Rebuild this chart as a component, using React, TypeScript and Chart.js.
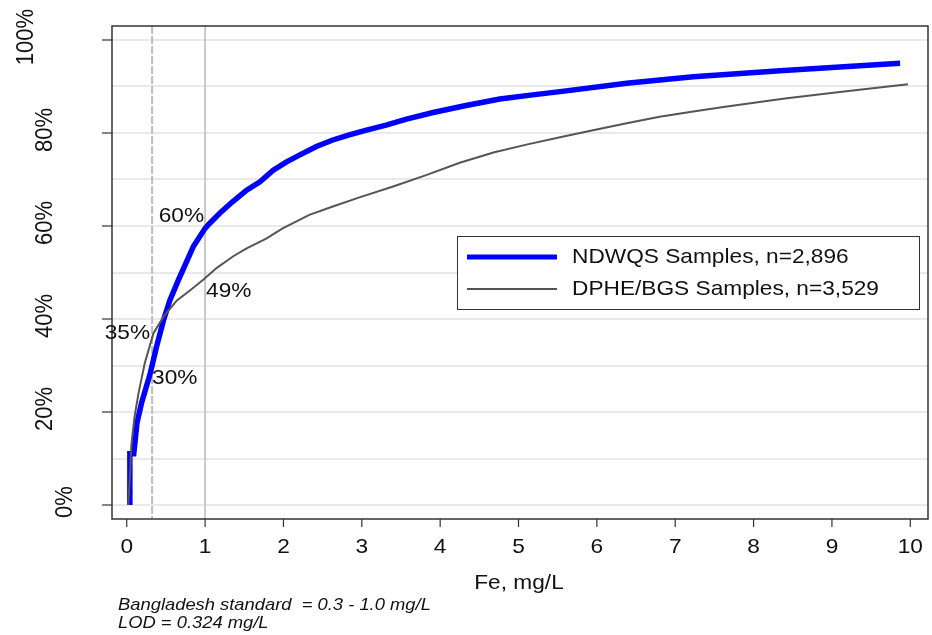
import React, { useEffect, useRef } from "react";
import { Chart, registerables } from "chart.js";

Chart.register(...registerables);

// NDWQS samples (blue) - Fe mg/L vs cumulative %
const ndwqsX = [0.04, 0.04, 0.09, 0.13, 0.19, 0.30, 0.38, 0.47, 0.55, 0.66, 0.75, 0.85, 1.0, 1.06, 1.19, 1.35, 1.53, 1.7, 1.87, 2.04, 2.21, 2.42, 2.63, 2.84, 3.06, 3.31, 3.57, 3.91, 4.33, 4.76, 5.18, 5.53, 6.38, 7.23, 8.34, 9.2, 9.87];
const ndwqsY = [0, 11, 11, 17.6, 22, 28.3, 34, 39.8, 44, 48.4, 51.8, 55.6, 59.5, 60.6, 62.8, 65.2, 67.7, 69.5, 72, 73.8, 75.3, 77.1, 78.5, 79.6, 80.6, 81.7, 83.0, 84.4, 85.9, 87.3, 88.2, 88.9, 90.7, 92.1, 93.4, 94.3, 95.0];

// DPHE/BGS samples (grey)
const dpheX = [0.02, 0.04, 0.06, 0.1, 0.15, 0.23, 0.34, 0.47, 0.64, 0.81, 0.98, 1.15, 1.36, 1.53, 1.78, 1.99, 2.33, 2.63, 2.98, 3.4, 3.83, 4.25, 4.68, 5.1, 5.53, 5.95, 6.38, 6.8, 7.23, 7.66, 8.4, 9.1, 9.97];
const dpheY = [0, 6, 13, 19, 24, 30.5, 36.9, 40.5, 44, 46.2, 48.5, 51, 53.5, 55.2, 57.3, 59.5, 62.4, 64.2, 66.2, 68.5, 71, 73.6, 75.8, 77.5, 79.1, 80.6, 82.1, 83.5, 84.6, 85.7, 87.4, 88.8, 90.5];

const xTicks = [0, 1, 2, 3, 4, 5, 6, 7, 8, 9, 10];
const yTicks = [0, 20, 40, 60, 80, 100];
const yTickLabels = ["0%", "20%", "40%", "60%", "80%", "100%"];
const yGrid = [0, 10, 20, 30, 40, 50, 60, 70, 80, 90, 100];

const lodValue = 0.324;
const standardMax = 1.0;

const seriesNames = ["NDWQS Samples, n=2,896", "DPHE/BGS Samples, n=3,529"];
const xTitle = "Fe, mg/L";
const footnotes = ["Bangladesh standard  = 0.3 - 1.0 mg/L", "LOD = 0.324 mg/L"];

// value annotations: text, x value, y value
const annoText = ["60%", "49%", "35%", "30%"];
const annoX = [1.0, 1.0, 0.324, 0.324];
const annoY = [60, 49, 35, 30];

const FONT = '"Liberation Sans", Arial, Helvetica, sans-serif';
const SX = 1.08;

function txt(ctx: CanvasRenderingContext2D, s: string, x: number, y: number, align: CanvasTextAlign, size: number, italic = false, rot = false) {
  ctx.save();
  ctx.translate(x, y);
  if (rot) {
    ctx.rotate(-Math.PI / 2);
    ctx.scale(1, SX);
  } else {
    ctx.scale(SX, 1);
  }
  ctx.font = `${italic ? "italic " : ""}${size}px ${FONT}`;
  ctx.textAlign = align;
  ctx.textBaseline = "middle";
  ctx.fillStyle = "#111";
  ctx.fillText(s, 0, 0);
  ctx.restore();
}

const drawPlugin = {
  id: "stataLook",
  beforeDatasetsDraw(chart: any) {
    const { ctx, chartArea: a, scales } = chart;
    const xs = scales.x, ys = scales.y;
    ctx.save();
    ctx.strokeStyle = "#e9e9e9";
    ctx.lineWidth = 2;
    yGrid.forEach((v) => {
      const y = Math.round(ys.getPixelForValue(v));
      ctx.beginPath();
      ctx.moveTo(a.left, y);
      ctx.lineTo(a.right, y);
      ctx.stroke();
    });
    // reference lines
    ctx.strokeStyle = "#bdbdbd";
    ctx.lineWidth = 2;
    const xl = xs.getPixelForValue(lodValue);
    ctx.setLineDash([8, 2]);
    ctx.beginPath();
    ctx.moveTo(xl, a.top);
    ctx.lineTo(xl, a.bottom);
    ctx.stroke();
    ctx.setLineDash([]);
    ctx.strokeStyle = "#c8c8c8";
    const xs1 = xs.getPixelForValue(standardMax);
    ctx.beginPath();
    ctx.moveTo(xs1, a.top);
    ctx.lineTo(xs1, a.bottom);
    ctx.stroke();
    ctx.restore();
  },
  afterDatasetsDraw(chart: any) {
    const { ctx, chartArea: a, scales } = chart;
    const xs = scales.x, ys = scales.y;
    ctx.save();
    // frame
    ctx.strokeStyle = "#333";
    ctx.lineWidth = 1.5;
    ctx.strokeRect(a.left, a.top, a.right - a.left, a.bottom - a.top);
    // x ticks
    ctx.lineWidth = 1.2;
    xTicks.forEach((v) => {
      const x = xs.getPixelForValue(v);
      ctx.beginPath();
      ctx.moveTo(x, a.bottom);
      ctx.lineTo(x, a.bottom + 8);
      ctx.stroke();
      txt(ctx, String(v), x, a.bottom + 28, "center", 21);
    });
    // y ticks
    yTicks.forEach((v, i) => {
      const y = ys.getPixelForValue(v);
      ctx.beginPath();
      ctx.moveTo(a.left - 10, y);
      ctx.lineTo(a.left, y);
      ctx.stroke();
      const lab = yTickLabels[i];
      const cx = 65 - 19.5 * (lab.length - 2);
      txt(ctx, lab, cx, y - 3, "center", 22, false, true);
    });
    // axis title
    txt(ctx, xTitle, (a.left + a.right) / 2 - 1, a.bottom + 64, "center", 21);
    // footnotes
    txt(ctx, footnotes[0], 118, a.bottom + 86, "left", 17, true);
    txt(ctx, footnotes[1], 118, a.bottom + 104, "left", 17, true);
    // annotations
    annoText.forEach((t, i) => {
      const px = xs.getPixelForValue(annoX[i]);
      const py = ys.getPixelForValue(annoY[i]);
      if (i === 0) txt(ctx, t, px - 1, py - 10, "right", 21);
      else if (i === 1) txt(ctx, t, px + 1, py + 14, "left", 21);
      else if (i === 2) txt(ctx, t, px - 2, py - 9, "right", 21);
      else txt(ctx, t, px, py + 13, "left", 21);
    });
    // legend
    const lx = 457, ly = 236, lw = 462, lh = 73;
    ctx.fillStyle = "#fff";
    ctx.fillRect(lx, ly, lw, lh);
    ctx.strokeStyle = "#333";
    ctx.lineWidth = 1;
    ctx.strokeRect(lx + 0.5, ly + 0.5, lw, lh);
    ctx.strokeStyle = "#0000ff";
    ctx.lineWidth = 5;
    ctx.beginPath();
    ctx.moveTo(467, 257);
    ctx.lineTo(557, 257);
    ctx.stroke();
    ctx.strokeStyle = "#555";
    ctx.lineWidth = 2;
    ctx.beginPath();
    ctx.moveTo(467, 289);
    ctx.lineTo(557, 289);
    ctx.stroke();
    txt(ctx, seriesNames[0], 572, 257, "left", 21);
    txt(ctx, seriesNames[1], 572, 289, "left", 21);
    ctx.restore();
  },
};

export default function App() {
  const ref = useRef<HTMLCanvasElement | null>(null);
  useEffect(() => {
    if (!ref.current) return;
    const chart = new Chart(ref.current, {
      type: "scatter",
      data: {
        datasets: [
          {
            label: seriesNames[0],
            data: ndwqsX.map((x, i) => ({ x, y: ndwqsY[i] })),
            showLine: true,
            borderColor: "#0000ff",
            backgroundColor: "#0000ff",
            borderWidth: 5.5,
            pointRadius: 0,
            tension: 0,
            order: 2,
          },
          {
            label: seriesNames[1],
            data: dpheX.map((x, i) => ({ x, y: dpheY[i] })),
            showLine: true,
            borderColor: "#555555",
            backgroundColor: "#555555",
            borderWidth: 2,
            pointRadius: 0,
            tension: 0,
            order: 1,
          },
        ],
      },
      options: {
        animation: false,
        responsive: false,
        devicePixelRatio: 1,
        layout: { padding: { left: 112, top: 26, right: 4, bottom: 116 } },
        plugins: { legend: { display: false }, tooltip: { enabled: false } },
        scales: {
          x: { type: "linear", min: -0.188, max: 10.226, display: false },
          y: { type: "linear", min: -3.01, max: 103.01, display: false },
        },
      },
      plugins: [drawPlugin],
    });
    return () => chart.destroy();
  }, []);
  return (
    <div style={{ position: "absolute", left: 0, top: 0, width: 932, height: 635, background: "#fff" }}>
      <canvas ref={ref} width={932} height={635} style={{ width: 932, height: 635, display: "block" }} />
    </div>
  );
}
